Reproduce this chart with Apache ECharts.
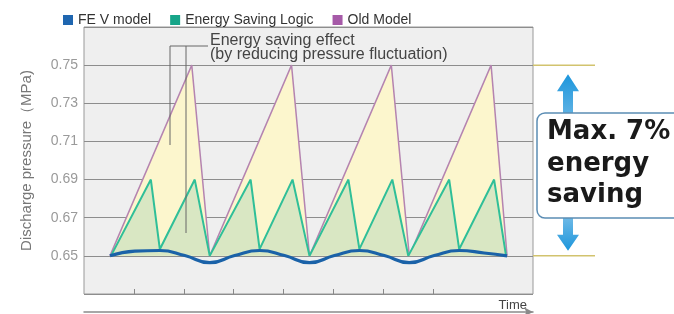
<!DOCTYPE html>
<html>
<head>
<meta charset="utf-8">
<script src="https://cdn.jsdelivr.net/npm/echarts@6/dist/echarts.min.js"></script>
<style>
  html, body { margin: 0; padding: 0; background: #fff; }
  #chart { width: 674px; height: 314px; }
</style>
</head>
<body>
<div id="chart"></div>
<script>
// time is in arbitrary units (one unit per x tick), pressure in MPa
const oldModelTime = [0.52, 2.16, 2.52, 4.16, 4.52, 6.16, 6.52, 8.16, 8.48];
const oldModelPressure = [0.65, 0.75, 0.65, 0.75, 0.65, 0.75, 0.65, 0.75, 0.65];

const savingTime = [0.54, 1.34, 1.52, 2.22, 2.52, 3.34, 3.52, 4.18, 4.52, 5.3, 5.52, 6.18, 6.5, 7.32, 7.52, 8.22, 8.46];
const savingPressure = [0.65, 0.69, 0.6535, 0.69, 0.65, 0.69, 0.6535, 0.69, 0.65, 0.69, 0.6535, 0.69, 0.65, 0.69, 0.6535, 0.69, 0.65];

const fevTime = [0.52, 1.02, 1.52, 2.02, 2.52, 3.02, 3.52, 4.02, 4.52, 5.02, 5.52, 6.02, 6.52, 7.02, 7.52, 8.02, 8.48];
const fevPressure = [0.65, 0.6525, 0.6528, 0.6502, 0.6464, 0.6502, 0.6528, 0.6502, 0.6464, 0.6502, 0.6528, 0.6502, 0.6464, 0.6502, 0.6528, 0.6515, 0.65];

const timeTicks = [1, 2, 3, 4, 5, 6, 7];

const zip = (xs, ys) => xs.map((x, i) => [x, ys[i]]);
const FONT = '"Liberation Sans", Arial, sans-serif';

const chart = echarts.init(document.getElementById("chart"));

chart.setOption({
  animation: false,
  legend: {
    top: 8,
    left: 58,
    icon: "rect",
    itemWidth: 10,
    itemHeight: 10,
    itemGap: 19,
    textStyle: { fontSize: 14, color: "#333", fontFamily: FONT },
    data: [
      { name: "FE V model", itemStyle: { color: "#1f66b0" } },
      { name: "Energy Saving Logic", itemStyle: { color: "#17a589" } },
      { name: "Old Model", itemStyle: { color: "#a65aa8" } },
    ],
  },
  grid: {
    left: 84,
    right: 141,
    top: 27,
    bottom: 20,
    show: true,
    backgroundColor: "#efefef",
    borderColor: "#999",
    borderWidth: 1,
  },
  xAxis: [
    {
      type: "value",
      min: 0,
      max: 9,
      axisLine: { show: false },
      axisLabel: { show: false },
      splitLine: { show: false },
      axisTick: {
        show: true,
        inside: true,
        length: 5,
        customValues: timeTicks,
        lineStyle: { color: "#888" },
      },
    },
    {
      type: "value",
      min: 0,
      max: 9,
      position: "bottom",
      offset: 18,
      axisLine: {
        show: true,
        symbol: ["none", "arrow"],
        symbolSize: [7, 9],
        lineStyle: { color: "#8a8a8a", width: 1.5 },
      },
      axisTick: { show: false },
      axisLabel: { show: false },
      splitLine: { show: false },
      name: "Time",
      nameLocation: "end",
      nameGap: -6,
      nameTextStyle: {
        align: "right",
        verticalAlign: "bottom",
        fontSize: 13,
        color: "#444",
        fontFamily: FONT,
      },
    },
  ],
  yAxis: {
    type: "value",
    min: 0.63,
    max: 0.77,
    interval: 0.02,
    axisLine: { show: false },
    axisTick: { show: false },
    axisLabel: {
      showMinLabel: false,
      showMaxLabel: false,
      formatter: (v) => v.toFixed(2),
      color: "#9a9a9a",
      fontSize: 14,
      margin: 6,
      fontFamily: FONT,
    },
    splitLine: { lineStyle: { color: "#8d8d8d", width: 1 } },
    name: "Discharge pressure（MPa)",
    nameLocation: "middle",
    nameGap: 50,
    nameTextStyle: { color: "#777", fontSize: 15, fontFamily: FONT },
  },
  series: [
    {
      name: "Old Model",
      type: "line",
      data: zip(oldModelTime, oldModelPressure),
      symbol: "none",
      itemStyle: { color: "#a65aa8" },
      lineStyle: { color: "#b584b0", width: 1.5 },
      areaStyle: { color: "#fcf6cd", opacity: 1, origin: 0.65 },
      z: 2,
    },
    {
      name: "Energy Saving Logic",
      type: "line",
      data: zip(savingTime, savingPressure),
      symbol: "none",
      itemStyle: { color: "#17a589" },
      lineStyle: { color: "#2fbf98", width: 2 },
      areaStyle: { color: "#d9e7c3", opacity: 1, origin: 0.65 },
      z: 3,
    },
    {
      name: "FE V model",
      type: "line",
      data: zip(fevTime, fevPressure),
      symbol: "none",
      smooth: true,
      itemStyle: { color: "#1f66b0" },
      lineStyle: { color: "#1a62a8", width: 3.2 },
      z: 4,
    },
  ],
});

// annotations outside the plot, placed from the axis scale
const yTop = chart.convertToPixel({ yAxisIndex: 0 }, 0.75);
const yBase = chart.convertToPixel({ yAxisIndex: 0 }, 0.65);
const xRight = chart.convertToPixel({ xAxisIndex: 0 }, 9);
const ax = 568;

chart.setOption({
  graphic: [
    {
      type: "line",
      shape: { x1: xRight, y1: yTop, x2: 595, y2: yTop },
      style: { stroke: "#d2c36e", lineWidth: 1.5 },
    },
    {
      type: "line",
      shape: { x1: xRight, y1: yBase, x2: 595, y2: yBase },
      style: { stroke: "#d2c36e", lineWidth: 1.5 },
    },
    {
      type: "polyline",
      shape: { points: [[170, 145], [170, 46], [208, 46]] },
      style: { stroke: "#666", lineWidth: 1, fill: null },
      z: 10,
    },
    {
      type: "line",
      shape: { x1: 186, y1: 46, x2: 186, y2: 233 },
      style: { stroke: "#666", lineWidth: 1 },
      z: 10,
    },
    {
      type: "text",
      x: 210,
      y: 48,
      style: {
        text: "Energy saving effect\n(by reducing pressure fluctuation)",
        font: '16px "Liberation Sans", Arial, sans-serif',
        fill: "#444",
        lineHeight: 14,
        align: "left",
        verticalAlign: "middle",
      },
      z: 10,
    },
    {
      type: "polygon",
      shape: {
        points: [
          [ax, yTop + 9], [ax - 11, yTop + 26], [ax - 5, yTop + 26], [ax - 5, 125],
          [ax + 5, 125], [ax + 5, yTop + 26], [ax + 11, yTop + 26],
        ],
      },
      style: {
        fill: new echarts.graphic.LinearGradient(0, 0, 0, 1, [
          { offset: 0, color: "#1c96dc" },
          { offset: 1, color: "#6fb9e6" },
        ]),
      },
      z: 10,
    },
    {
      type: "polygon",
      shape: {
        points: [
          [ax - 5, 205], [ax + 5, 205], [ax + 5, yBase - 21], [ax + 11, yBase - 21],
          [ax, yBase - 5], [ax - 11, yBase - 21], [ax - 5, yBase - 21],
        ],
      },
      style: {
        fill: new echarts.graphic.LinearGradient(0, 0, 0, 1, [
          { offset: 0, color: "#8cc6ea" },
          { offset: 1, color: "#1c96dc" },
        ]),
      },
      z: 10,
    },
    {
      type: "rect",
      shape: { x: 537, y: 113, width: 160, height: 105, r: 8 },
      style: { fill: "#fff", stroke: "#5b8db4", lineWidth: 1.5 },
      z: 11,
    },
    {
      type: "text",
      x: 547,
      y: 164,
      style: {
        text: "Max. 7%\nenergy\nsaving",
        font: 'bold 26px "DejaVu Sans", sans-serif',
        fill: "#1a1a1a",
        lineHeight: 31.5,
        align: "left",
        verticalAlign: "middle",
      },
      z: 12,
    },
  ],
});
</script>
</body>
</html>
